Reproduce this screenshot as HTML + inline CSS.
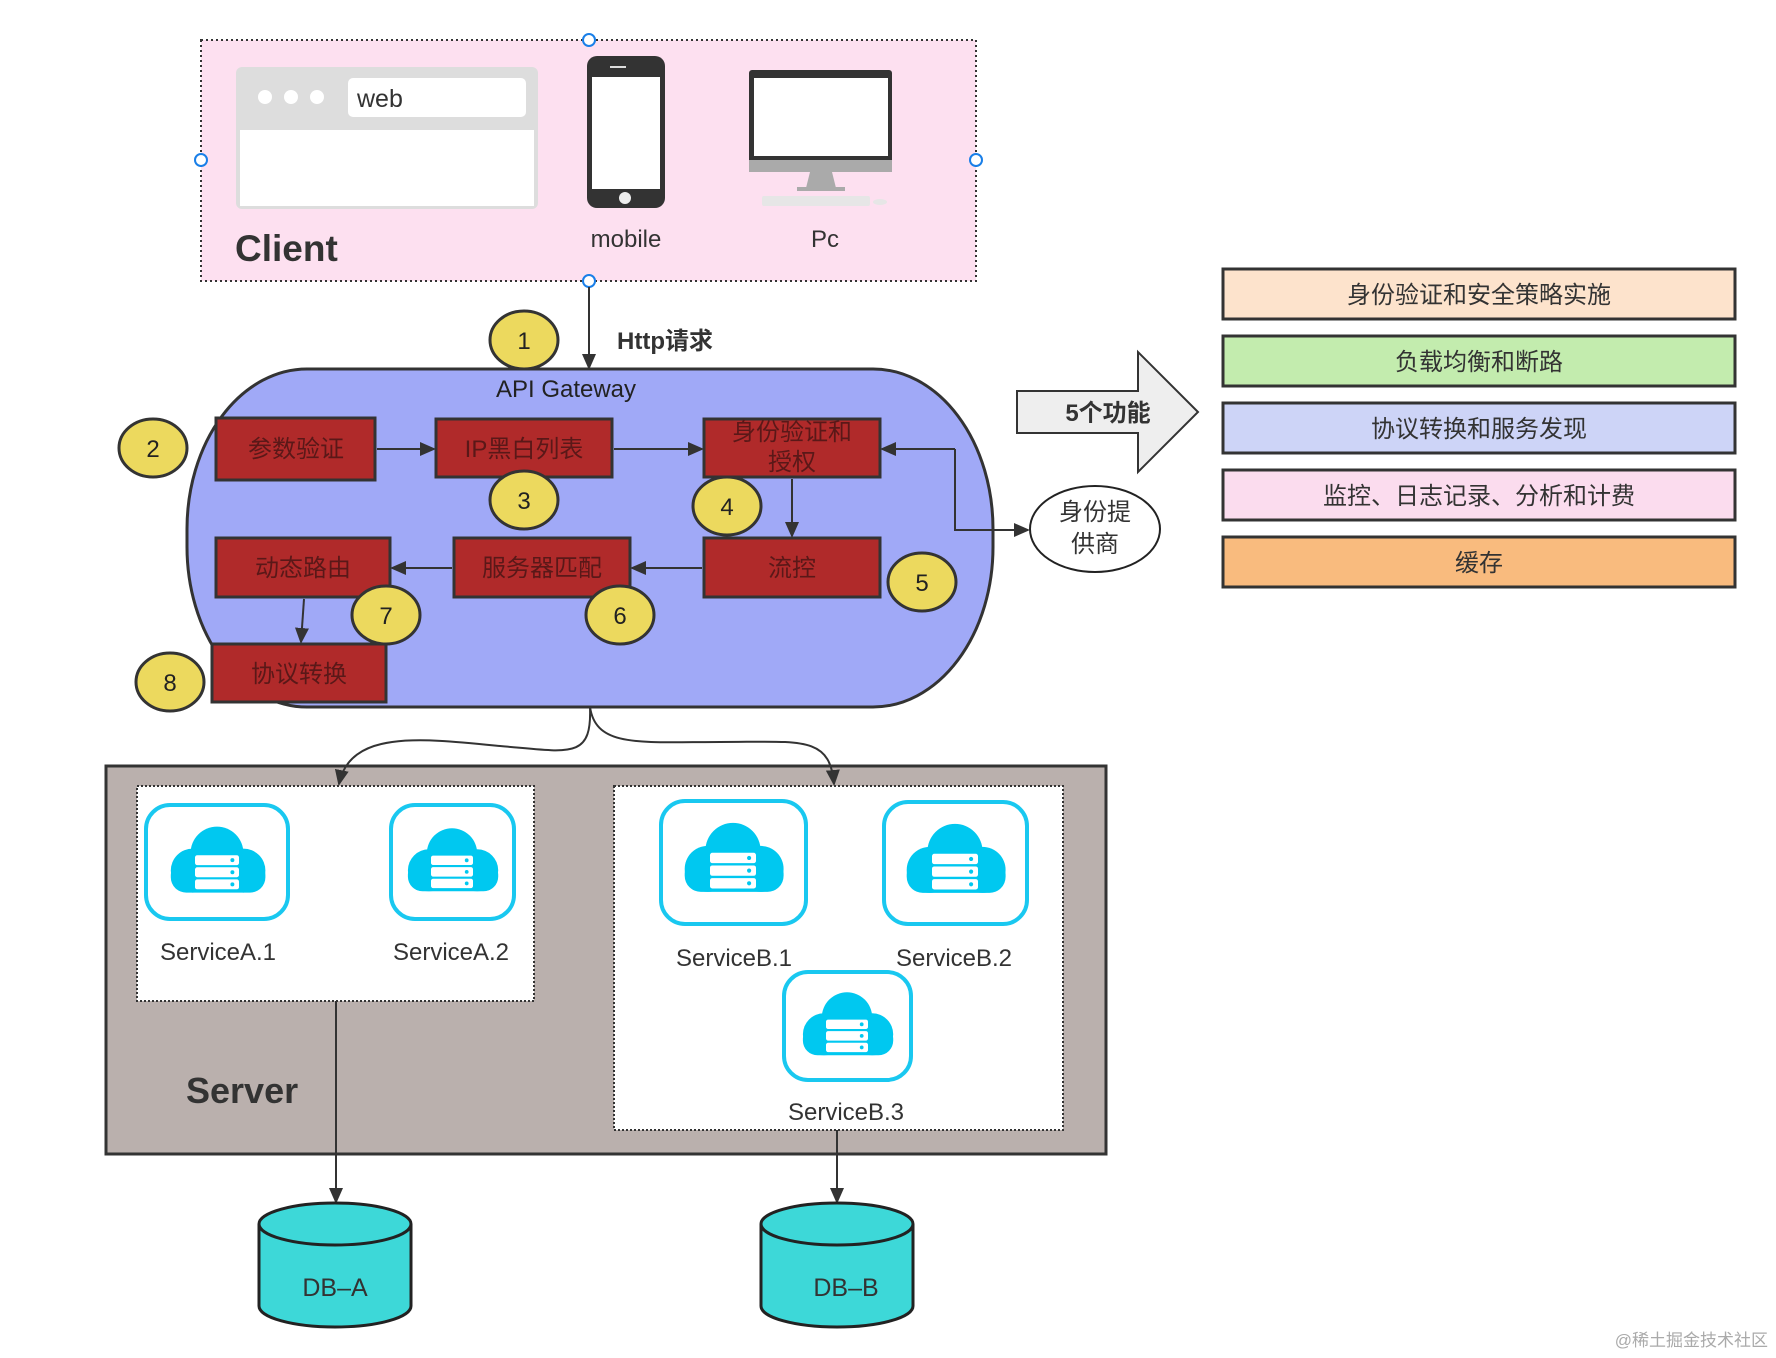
<!DOCTYPE html>
<html><head><meta charset="utf-8"><style>
html,body{margin:0;padding:0;background:#fff;}
svg{display:block;font-family:"Liberation Sans","Noto Sans CJK SC",sans-serif;}
</style></head><body>
<svg width="1776" height="1358" viewBox="0 0 1776 1358" xmlns="http://www.w3.org/2000/svg">
<defs>
<marker id="ah" markerWidth="16" markerHeight="14" refX="14" refY="7" orient="auto" markerUnits="userSpaceOnUse">
<path d="M0,0 L16,7 L0,14 Z" fill="#333"/>
</marker>
<g id="cloud">
<circle cx="-22" cy="6" r="20" fill="#00c8f0"/>
<circle cx="24" cy="6" r="20" fill="#00c8f0"/>
<circle cx="0" cy="-10" r="24" fill="#00c8f0"/>
<rect x="-42" y="-4" width="86" height="30" rx="14" fill="#00c8f0"/>
<rect x="-20" y="-8" width="40" height="9" rx="2" fill="#fff"/>
<rect x="-20" y="3" width="40" height="9" rx="2" fill="#fff"/>
<rect x="-20" y="14" width="40" height="9" rx="2" fill="#fff"/>
<circle cx="14" cy="-3.5" r="1.8" fill="#00c8f0"/>
<circle cx="14" cy="7.5" r="1.8" fill="#00c8f0"/>
<circle cx="14" cy="18.5" r="1.8" fill="#00c8f0"/>
</g>
</defs>

<!-- Client -->
<rect x="201" y="40" width="775" height="241" fill="#fde0f0" stroke="#333" stroke-width="2" stroke-dasharray="2,3"/>
<rect x="236" y="67" width="302" height="142" rx="6" fill="#ddd"/>
<rect x="240" y="130" width="294" height="76" fill="#fff"/>
<circle cx="265" cy="97" r="7" fill="#fff"/><circle cx="291" cy="97" r="7" fill="#fff"/><circle cx="317" cy="97" r="7" fill="#fff"/>
<rect x="348" y="78" width="178" height="39" rx="5" fill="#fff"/>
<text x="357" y="107" font-size="25" fill="#333">web</text>
<rect x="587" y="56" width="78" height="152" rx="10" fill="#333"/>
<rect x="592" y="77" width="68" height="112" fill="#fff"/>
<circle cx="625" cy="198" r="6" fill="#eee"/>
<rect x="610" y="66" width="16" height="2" fill="#ddd"/>
<rect x="749" y="70" width="143" height="102" rx="3" fill="#333"/>
<rect x="754" y="78" width="134" height="78" fill="#fff"/>
<rect x="749" y="160" width="143" height="12" fill="#aaa"/>
<path d="M810 172 L832 172 L836 188 L806 188 Z" fill="#aaa"/>
<rect x="797" y="187" width="48" height="4" fill="#aaa"/>
<rect x="762" y="196" width="108" height="10" rx="2" fill="#e6e6e6"/>
<ellipse cx="880" cy="202" rx="7" ry="3" fill="#e6e6e6"/>
<text x="235" y="261" font-size="37" font-weight="bold" fill="#333">Client</text>
<text x="626" y="247" font-size="24" fill="#333" text-anchor="middle">mobile</text>
<text x="825" y="247" font-size="24" fill="#333" text-anchor="middle">Pc</text>
<g fill="#fff" stroke="#1a7fe8" stroke-width="2">
<circle cx="589" cy="40" r="6"/><circle cx="589" cy="281" r="6"/><circle cx="201" cy="160" r="6"/><circle cx="976" cy="160" r="6"/>
</g>

<!-- http arrow -->
<line x1="589" y1="287" x2="589" y2="368" stroke="#333" stroke-width="2" marker-end="url(#ah)"/>
<text x="617" y="349" font-size="24" font-weight="bold" fill="#333">Http请求</text>

<!-- Gateway -->
<rect x="187" y="369" width="806" height="338" rx="120" ry="160" fill="#a0a9f7" stroke="#333" stroke-width="3"/>
<text x="566" y="397" font-size="24" fill="#222" text-anchor="middle">API Gateway</text>

<g fill="#b02a2a" stroke="#333" stroke-width="3">
<rect x="216" y="418" width="159" height="62"/>
<rect x="436" y="419" width="176" height="58"/>
<rect x="704" y="419" width="176" height="58"/>
<rect x="704" y="538" width="176" height="59"/>
<rect x="454" y="538" width="176" height="59"/>
<rect x="216" y="538" width="174" height="59"/>
<rect x="212" y="644" width="174" height="58"/>
</g>
<g font-size="24" fill="#5a1818" text-anchor="middle">
<text x="296" y="457">参数验证</text>
<text x="524" y="457">IP黑白列表</text>
<text x="792" y="440">身份验证和</text>
<text x="792" y="470">授权</text>
<text x="792" y="576">流控</text>
<text x="542" y="576">服务器匹配</text>
<text x="303" y="576">动态路由</text>
<text x="299" y="682">协议转换</text>
</g>
<g stroke="#333" stroke-width="2" fill="none" marker-end="url(#ah)">
<line x1="377" y1="449" x2="434" y2="449"/>
<line x1="614" y1="449" x2="702" y2="449"/>
<line x1="792" y1="479" x2="792" y2="536"/>
<line x1="702" y1="568" x2="632" y2="568"/>
<line x1="452" y1="568" x2="392" y2="568"/>
<line x1="304" y1="599" x2="301" y2="642"/>
<polyline points="955,449 955,530 1028,530"/>
<line x1="955" y1="449" x2="882" y2="449"/>
</g>

<g fill="#ecd95e" stroke="#333" stroke-width="3">
<ellipse cx="524" cy="340" rx="34" ry="29"/>
<ellipse cx="153" cy="448" rx="34" ry="29"/>
<ellipse cx="524" cy="500" rx="34" ry="29"/>
<ellipse cx="727" cy="506" rx="34" ry="29"/>
<ellipse cx="922" cy="582" rx="34" ry="29"/>
<ellipse cx="620" cy="615" rx="34" ry="29"/>
<ellipse cx="386" cy="615" rx="34" ry="29"/>
<ellipse cx="170" cy="682" rx="34" ry="29"/>
</g>
<g font-size="24" fill="#222" text-anchor="middle">
<text x="524" y="349">1</text><text x="153" y="457">2</text><text x="524" y="509">3</text><text x="727" y="515">4</text>
<text x="922" y="591">5</text><text x="620" y="624">6</text><text x="386" y="624">7</text><text x="170" y="691">8</text>
</g>

<!-- identity provider -->
<ellipse cx="1095" cy="529" rx="65" ry="43" fill="#fff" stroke="#222" stroke-width="2"/>
<text x="1095" y="520" font-size="24" fill="#333" text-anchor="middle">身份提</text>
<text x="1095" y="552" font-size="24" fill="#333" text-anchor="middle">供商</text>

<!-- 5 functions arrow -->
<path d="M1017 391 L1138 391 L1138 352 L1198 412 L1138 472 L1138 433 L1017 433 Z" fill="#eee" stroke="#333" stroke-width="2"/>
<text x="1108" y="421" font-size="24" font-weight="bold" fill="#333" text-anchor="middle">5个功能</text>

<g stroke="#333" stroke-width="3">
<rect x="1223" y="269" width="512" height="50" fill="#fde3cc"/>
<rect x="1223" y="336" width="512" height="50" fill="#c3ecae"/>
<rect x="1223" y="403" width="512" height="50" fill="#cdd4f7"/>
<rect x="1223" y="470" width="512" height="50" fill="#fbdcee"/>
<rect x="1223" y="537" width="512" height="50" fill="#f9bb7e"/>
</g>
<g font-size="24" fill="#333" text-anchor="middle">
<text x="1479" y="303">身份验证和安全策略实施</text>
<text x="1479" y="370">负载均衡和断路</text>
<text x="1479" y="437">协议转换和服务发现</text>
<text x="1479" y="504">监控、日志记录、分析和计费</text>
<text x="1479" y="571">缓存</text>
</g>

<!-- Server -->
<rect x="106" y="766" width="1000" height="388" fill="#bab0ad" stroke="#333" stroke-width="3"/>
<rect x="137" y="786" width="397" height="215" fill="#fff" stroke="#333" stroke-width="2" stroke-dasharray="2,2"/>
<rect x="614" y="786" width="449" height="344" fill="#fff" stroke="#333" stroke-width="2" stroke-dasharray="2,2"/>
<text x="186" y="1103" font-size="36" font-weight="bold" fill="#333">Server</text>

<!-- curved connectors -->
<g stroke="#333" stroke-width="2" fill="none" marker-end="url(#ah)">
<path d="M590 707 C 592 760, 570 752, 500 746 C 420 738, 350 730, 339 784"/>
<path d="M590 707 C 596 748, 640 742, 720 742 C 800 742, 830 735, 834 784"/>
</g>

<g fill="#fff" stroke="#19c8f0" stroke-width="4">
<rect x="146" y="805" width="142" height="114" rx="24"/>
<rect x="391" y="805" width="123" height="114" rx="24"/>
<rect x="661" y="801" width="145" height="123" rx="24"/>
<rect x="884" y="802" width="143" height="122" rx="24"/>
<rect x="784" y="972" width="127" height="108" rx="24"/>
</g>
<use href="#cloud" transform="translate(217 864) scale(1.1)"/>
<use href="#cloud" transform="translate(452 864) scale(1.05)"/>
<use href="#cloud" transform="translate(733 862) scale(1.15)"/>
<use href="#cloud" transform="translate(955 863) scale(1.15)"/>
<use href="#cloud" transform="translate(847 1028) scale(1.05)"/>
<g font-size="24" fill="#333" text-anchor="middle">
<text x="218" y="960">ServiceA.1</text>
<text x="451" y="960">ServiceA.2</text>
<text x="734" y="966">ServiceB.1</text>
<text x="954" y="966">ServiceB.2</text>
<text x="846" y="1120">ServiceB.3</text>
</g>

<g stroke="#333" stroke-width="2" marker-end="url(#ah)">
<line x1="336" y1="1001" x2="336" y2="1202"/>
<line x1="837" y1="1130" x2="837" y2="1202"/>
</g>

<!-- DBs -->
<g fill="#3dd8d8" stroke="#222" stroke-width="3">
<path d="M259 1224 L259 1306 A76 21 0 0 0 411 1306 L411 1224"/>
<ellipse cx="335" cy="1224" rx="76" ry="21"/>
<path d="M761 1224 L761 1306 A76 21 0 0 0 913 1306 L913 1224"/>
<ellipse cx="837" cy="1224" rx="76" ry="21"/>
</g>
<text x="335" y="1296" font-size="25" fill="#333" text-anchor="middle">DB–A</text>
<text x="846" y="1296" font-size="25" fill="#333" text-anchor="middle">DB–B</text>

<text x="1768" y="1346" font-size="17" fill="#aaa" text-anchor="end">@稀土掘金技术社区</text>
</svg>
</body></html>
